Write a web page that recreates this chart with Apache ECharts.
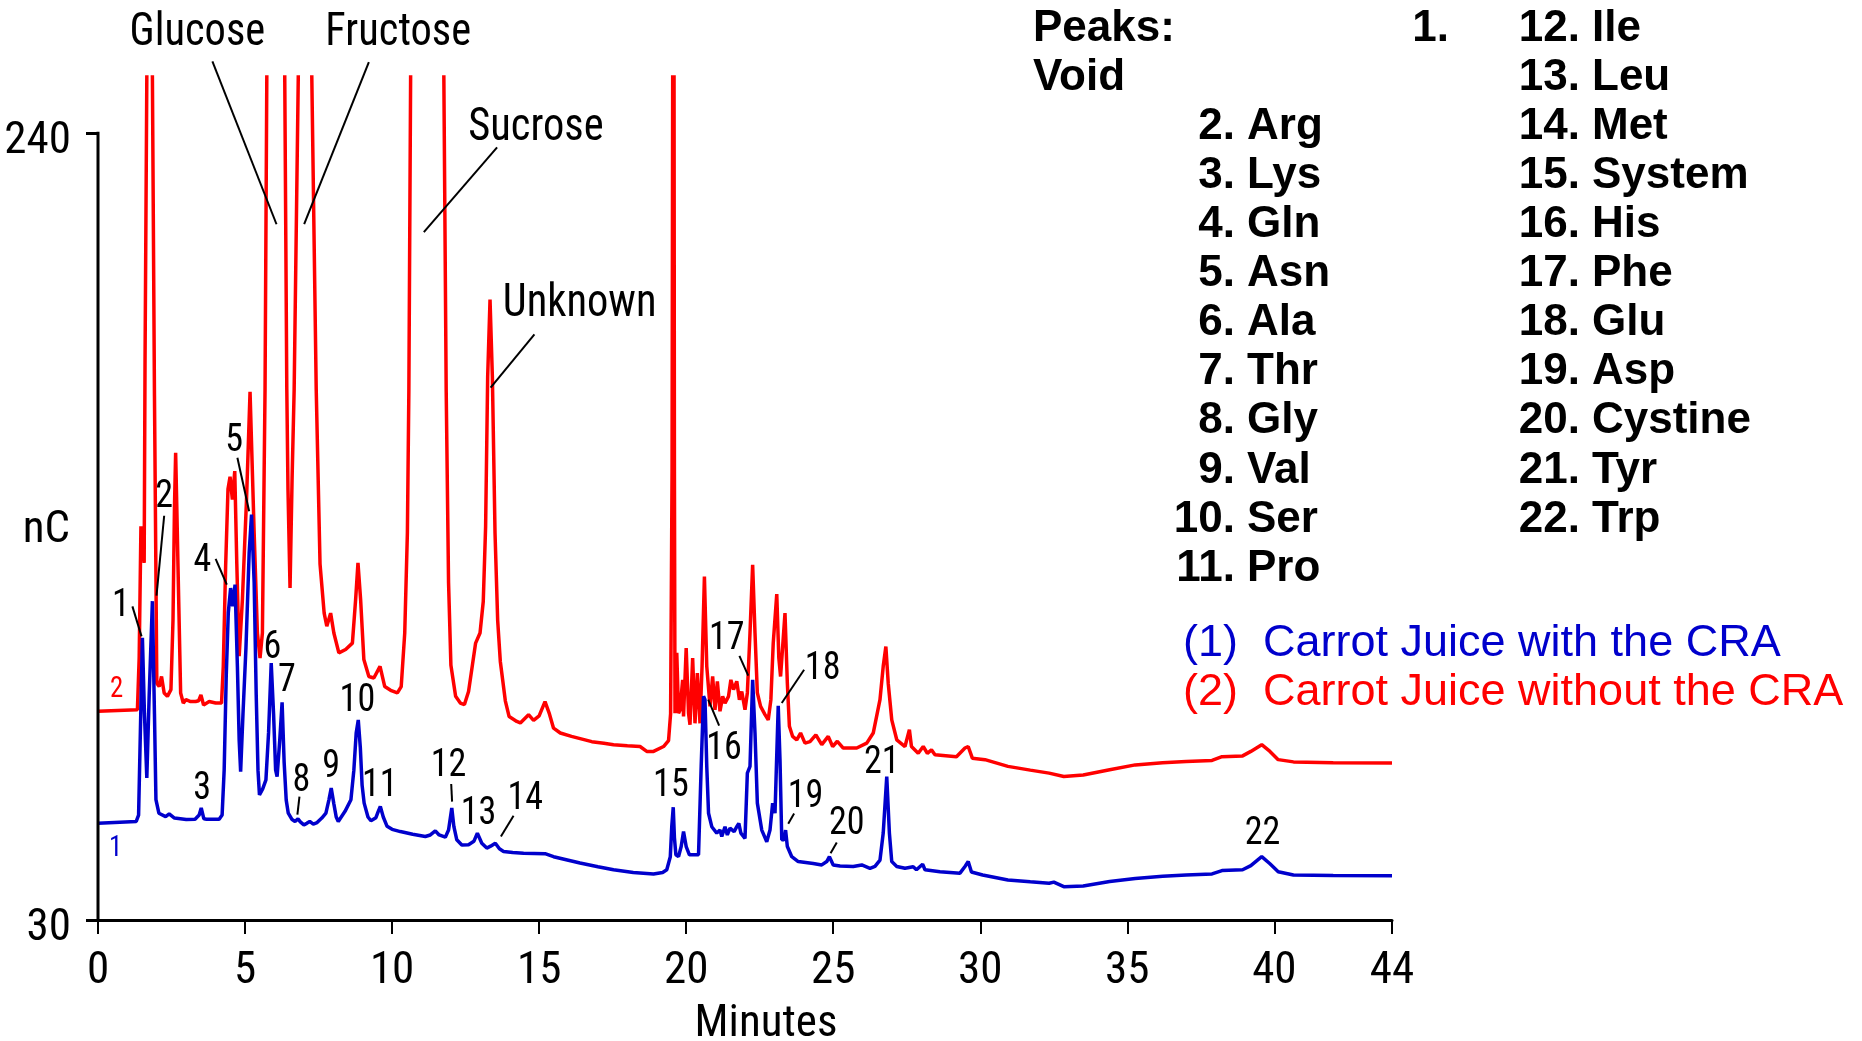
<!DOCTYPE html>
<html><head><meta charset="utf-8">
<script src="https://cdn.jsdelivr.net/npm/echarts@6/dist/echarts.min.js"></script>
<style>html,body{margin:0;padding:0;background:#fff}#c{width:1862px;height:1041px}</style>
</head><body><div id="c"></div>
<script>
const seriesNames = ['Carrot Juice with the CRA', 'Carrot Juice without the CRA'];
const seriesColors = ['#0000cc', '#ff0000'];
const xTicks = [0, 5, 10, 15, 20, 25, 30, 35, 40, 44];
const yTicks = [30, 240];

// (1) with CRA - [minutes, nC]
const blueTrace = [[0,55.8],[1.3,56.3],[1.38,58],[1.44,80],[1.51,105.3],[1.58,85],[1.66,67.9],[1.74,90],[1.85,115.1],[1.92,85],[1.97,62.1],[2.07,58.5],[2.3,57.6],[2.42,58.3],[2.6,57.2],[3.0,56.8],[3.3,56.9],[3.44,58],[3.51,59.9],[3.6,57],[3.69,56.9],[4.12,56.9],[4.22,58],[4.29,70],[4.36,95],[4.43,112],[4.51,118.6],[4.58,113.7],[4.66,119.5],[4.74,97.7],[4.8,78],[4.85,69.6],[4.93,85],[5.03,102.5],[5.14,128],[5.22,138.2],[5.31,120],[5.38,90],[5.44,70],[5.49,63.4],[5.6,65],[5.71,67.4],[5.8,80],[5.89,98.6],[5.97,85],[6.04,70],[6.09,68.3],[6.18,78],[6.26,88.1],[6.33,72],[6.4,62],[6.47,58.5],[6.6,56.8],[6.7,56.3],[6.8,57],[6.88,56.2],[7.0,55.4],[7.1,55.8],[7.2,56.3],[7.32,55.6],[7.45,56],[7.61,57.2],[7.75,58.5],[7.85,62],[7.93,65.2],[8.02,61],[8.1,57.5],[8.17,56.3],[8.4,59],[8.6,62.1],[8.7,70],[8.78,80],[8.85,83.4],[8.92,76],[8.98,66],[9.05,61.2],[9.18,57.5],[9.28,56.5],[9.45,57.3],[9.53,59],[9.6,60.3],[9.7,57.5],[9.83,55],[10.0,54.2],[10.28,53.6],[10.7,52.9],[11.13,52.3],[11.3,52.7],[11.47,53.8],[11.6,52.7],[11.81,52.1],[11.92,54],[12.03,59.9],[12.1,55],[12.2,51.4],[12.37,50.0],[12.6,50.1],[12.78,51],[12.9,53.2],[13.05,50.5],[13.22,49.2],[13.35,49.7],[13.51,50.5],[13.65,49],[13.79,48.3],[14.1,48],[14.47,47.8],[15.2,47.7],[15.49,46.9],[16.39,45.2],[17.0,44.2],[17.53,43.4],[18.2,42.7],[18.89,42.3],[19.2,42.7],[19.34,43.4],[19.46,46.9],[19.51,55],[19.56,60.1],[19.6,52],[19.65,47.4],[19.74,46.9],[19.83,49.6],[19.91,53.6],[20.0,49.6],[20.11,47.4],[20.42,47.4],[20.51,71],[20.59,89.7],[20.64,88.8],[20.7,71],[20.76,58.5],[20.87,54.9],[21.04,53.2],[21.15,54.0],[21.21,52.3],[21.32,54.9],[21.4,52.7],[21.49,54.5],[21.63,53.6],[21.72,54.9],[21.79,55.8],[21.86,53.2],[22.0,51.8],[22.08,69.2],[22.17,71],[22.26,94.1],[22.34,79.9],[22.42,61.2],[22.57,54.0],[22.74,50.9],[22.85,54.0],[22.94,61.2],[23.02,58.5],[23.13,87.2],[23.19,72.8],[23.25,51.4],[23.33,51.4],[23.38,54.0],[23.44,49.6],[23.59,46.9],[23.81,45.6],[24.32,45.1],[24.61,44.7],[24.78,45.6],[24.87,46.9],[25.0,44.7],[25.23,44.4],[25.68,44.3],[25.97,44.7],[26.25,43.8],[26.42,44.3],[26.59,46.0],[26.7,53.2],[26.82,68.3],[26.91,53.2],[26.99,45.6],[27.16,44.3],[27.44,43.8],[27.72,44.2],[27.83,43.4],[28.04,44.9],[28.12,43.4],[28.63,42.9],[29.31,42.5],[29.48,44.3],[29.59,45.6],[29.7,42.8],[30.08,42],[30.94,40.7],[31.7,40.2],[32.34,39.8],[32.5,40.1],[32.84,38.9],[33.5,39.1],[34.4,40.3],[35.27,41.1],[36.2,41.7],[37.0,42],[37.88,42.3],[38.22,43.2],[38.92,43.4],[39.2,44.5],[39.57,46.9],[39.85,45],[40.13,42.9],[40.65,42],[42.0,41.9],[44.0,41.8]];

// (2) without CRA - [minutes, nC]; sugar peaks run off the top of the plot
const redTrace = [[0,85.7],[1.34,86.1],[1.4,100],[1.46,135.1],[1.51,135.5],[1.57,125.3],[1.6,180],[1.66,255],[1.75,320],[1.85,255],[1.92,170],[2.0,93.2],[2.08,92.3],[2.16,95.0],[2.25,90.6],[2.36,89.7],[2.48,91.5],[2.55,110],[2.6,140],[2.64,154.7],[2.68,140],[2.72,124.4],[2.81,90.6],[2.9,87.9],[2.99,88.8],[3.15,88.3],[3.32,88.3],[3.42,88.5],[3.5,90.1],[3.59,87.4],[3.78,88.3],[4.0,87.9],[4.2,87.9],[4.26,97.7],[4.34,124.4],[4.42,145],[4.49,148.3],[4.57,142.2],[4.65,149.8],[4.72,125],[4.8,100.4],[4.91,115.5],[5.05,142.2],[5.17,171],[5.31,133.3],[5.42,106.6],[5.51,99.9],[5.59,106.6],[5.65,150],[5.68,171.6],[5.74,255],[6.05,600],[6.35,255],[6.42,171.6],[6.46,145],[6.53,118.6],[6.6,148],[6.67,171.6],[6.81,255],[7.05,500],[7.27,255],[7.42,171.6],[7.55,125],[7.69,111.9],[7.78,108.4],[7.91,111.9],[8.02,106.6],[8.19,101.3],[8.42,102.2],[8.65,103.9],[8.76,115.5],[8.84,125.3],[8.93,115.5],[9.04,99.5],[9.21,95],[9.38,94.6],[9.59,97.7],[9.75,92.3],[9.95,91.3],[10.18,90.6],[10.31,92.3],[10.43,106.6],[10.52,133.3],[10.57,171],[10.63,255],[11.2,900],[11.76,255],[11.84,171],[11.92,120],[12.0,98],[12.16,89.7],[12.32,87.9],[12.46,87.5],[12.6,91],[12.73,98],[12.84,103.9],[12.99,106.6],[13.1,115],[13.18,135],[13.25,175],[13.33,195.6],[13.41,175],[13.5,133.3],[13.59,110],[13.68,99],[13.85,88.5],[13.98,84.3],[14.24,83],[14.36,82.6],[14.64,84.8],[14.81,83.3],[15.0,84.5],[15.2,88.3],[15.35,85],[15.49,81.2],[15.72,79.9],[16.1,79],[16.79,77.6],[17.2,77.2],[17.53,76.8],[18.0,76.5],[18.43,76.3],[18.66,75.0],[18.89,75.0],[19.23,76.3],[19.4,77.9],[19.47,85],[19.52,150],[19.57,400],[19.6,150],[19.62,85.2],[19.68,101.3],[19.74,85.2],[19.79,86],[19.88,94.1],[19.91,84.3],[20.0,102.6],[20.08,85.2],[20.13,82.1],[20.22,99.9],[20.3,82.5],[20.38,95.9],[20.47,82.5],[20.54,97.7],[20.62,121.7],[20.7,97.7],[20.81,87],[20.9,95],[20.98,86.1],[21.06,93.7],[21.15,85.7],[21.24,89.7],[21.32,87.9],[21.44,89.7],[21.52,94.1],[21.61,91.5],[21.72,93.7],[21.81,88.8],[21.89,91],[22.0,86.1],[22.08,90.6],[22.17,106.6],[22.26,124.8],[22.34,106.6],[22.42,90.6],[22.53,87],[22.68,84.8],[22.79,83.4],[22.88,88.8],[22.96,103.9],[23.08,117],[23.15,100],[23.21,95],[23.36,111.9],[23.44,93.2],[23.51,81.7],[23.62,79],[23.76,78.1],[23.89,79.9],[24.04,77.2],[24.21,77.6],[24.41,79.4],[24.61,76.8],[24.83,79],[24.98,76.3],[25.14,77.7],[25.34,75.9],[25.8,75.9],[26.14,77.2],[26.36,79.9],[26.59,88.8],[26.7,97.7],[26.79,103.0],[26.87,93.2],[26.99,83.4],[27.16,78.1],[27.44,76.3],[27.59,80.8],[27.66,76.3],[27.89,74.5],[28.06,76.3],[28.2,74.5],[28.34,75.4],[28.46,74.1],[29.19,73.6],[29.48,75.9],[29.59,76.3],[29.73,73.2],[30.16,72.8],[30.94,71],[31.7,70],[32.34,69.2],[32.84,68.3],[33.5,68.7],[34.4,70.1],[35.27,71.4],[36.2,72],[37.0,72.3],[37.88,72.6],[38.22,73.6],[38.92,73.8],[39.2,75],[39.57,76.8],[39.85,75],[40.13,72.8],[40.65,72.2],[42.0,72],[44.0,71.9]];

// annotations in data coordinates [minutes, nC]
const sugarLabels = ['Glucose', 'Fructose', 'Sucrose', 'Unknown'];
const sugarLabelPos = [[3.38,268.2],[10.21,268.2],[14.89,242.8],[16.38,195.7]];
const sugarLeaders = [[3.89,259.2,6.07,215.7],[9.21,259.0,7.01,215.7],[13.57,236.2,11.08,213.6],[14.84,186.3,13.35,172.1]];
const peakNumbers = ['1','2','3','4','5','6','7','8','9','10','11','12','13','14','15','16','17','18','19','20','21','22'];
const peakLabelPos = [[0.775,115.05],[2.25,144.0],[3.54,66.1],[3.55,127.1],[4.63,159.1],[5.93,103.9],[6.42,95.0],[6.92,68.3],[7.93,71.9],[8.82,89.7],[9.58,67.0],[11.92,72.3],[12.94,59.4],[14.53,63.4],[19.48,67.0],[21.29,76.8],[21.38,106.2],[24.64,98.1],[24.06,63.9],[25.46,56.7],[26.65,73.2],[39.6,54.05]];
const peakLeaders = [[1.17,113.7,1.48,105.7],[2.25,137.9,1.99,116.6],[4.0,126.4,4.38,119.5],[4.74,153.4,5.14,139.1],[6.85,62.95,6.78,58.1],[12.01,66.3,12.04,61.6],[14.13,57.8,13.7,52.3],[20.75,88.8,21.12,81.9],[21.81,100.5,22.11,95.2],[24.01,96.8,23.25,87.9],[23.67,58.4,23.47,55.7],[25.12,50.7,24.91,47.8]];
const traceTags = ['1', '2'];
const traceTagPos = [[0.6,50.0],[0.63,92.3]];

const peakNames = ['Void','Arg','Lys','Gln','Asn','Ala','Thr','Gly','Val','Ser','Pro','Ile','Leu','Met','System','His','Phe','Glu','Asp','Cystine','Tyr','Trp'];

// ---- font selection: pick an installed condensed face ----
const mctx = document.createElement('canvas').getContext('2d');
function hasFont(f) {
  const s = 'abcdefghijklmMW0123456789';
  mctx.font = '40px monospace'; const w0 = mctx.measureText(s).width;
  mctx.font = "40px '" + f + "', monospace"; const w1 = mctx.measureText(s).width;
  return Math.abs(w1 - w0) > 0.5;
}
const condensedCandidates = ['Noto Sans Condensed', 'Liberation Sans Narrow', 'Arial Narrow', 'Roboto Condensed', 'DejaVu Sans Condensed'];
let narrowFace = 'DejaVu Sans Condensed';
for (const f of condensedCandidates) { if (hasFont(f)) { narrowFace = f; break; } }
const NARROW = "'" + narrowFace + "', sans-serif";
const SANS = "'Liberation Sans', Arial, Helvetica, sans-serif";
mctx.font = '100px ' + NARROW;
const digitRatio = mctx.measureText('0000000000').width / 1000;
const SQUEEZE = Math.min(1, 0.456 / digitRatio);           // horizontal squeeze for free text
const AXIS_FS = (s) => Math.round(s * Math.sqrt(SQUEEZE));  // compromise size for axis texts

// ---- peaks list (text block) ----
const ROW0 = 28.5, PITCH = 49.1, BOLD = 44;
const graphics = [];
function gtext(txt, x, y, align) {
  graphics.push({type:'text', x: x, y: y, silent: true,
    style:{text: txt, fill:'#000', fontSize: BOLD, fontWeight:'bold', fontFamily: SANS, align: align, verticalAlign:'middle'}});
}
gtext('Peaks:', 1033, ROW0, 'left');
gtext('1.', 1449, ROW0, 'right');
gtext(peakNames[0], 1033, ROW0 + PITCH, 'left');
for (let i = 2; i <= 11; i++) {
  gtext(i + '.', 1235, ROW0 + PITCH * i, 'right');
  gtext(peakNames[i - 1], 1247, ROW0 + PITCH * i, 'left');
}
for (let i = 12; i <= 22; i++) {
  gtext(i + '.', 1580, ROW0 + PITCH * (i - 12), 'right');
  gtext(peakNames[i - 1], 1592, ROW0 + PITCH * (i - 12), 'left');
}

// text annotations
const textItems = [];
sugarLabels.forEach((t, i) => textItems.push({value: sugarLabelPos[i], text: t, size: 46, color: '#000'}));
peakNumbers.forEach((t, i) => textItems.push({value: peakLabelPos[i], text: t, size: 39, color: '#000'}));
traceTags.forEach((t, i) => textItems.push({value: traceTagPos[i], text: t, size: 29, color: seriesColors[i]}));
const leaderItems = sugarLeaders.concat(peakLeaders);

const chart = echarts.init(document.getElementById('c'), null, {renderer: 'canvas'});
chart.setOption({
  animation: false,
  backgroundColor: '#fff',
  grid: {left: 98, right: 470, top: 77, bottom: 121, containLabel: false, outerBoundsMode: 'none'},
  legend: {
    orient: 'vertical', left: 1178, top: 621, padding: 0, itemGap: 4,
    itemWidth: 0, itemHeight: 45, icon: 'none', selectedMode: false,
    data: seriesNames.map((n, i) => ({name: n, textStyle: {color: seriesColors[i]}})),
    formatter: name => '(' + (seriesNames.indexOf(name) + 1) + ')  ' + name,
    textStyle: {fontSize: 45, fontFamily: SANS}
  },
  xAxis: {
    type: 'value', min: 0, max: 44,
    name: 'Minutes', nameLocation: 'middle', nameGap: 82, nameMoveOverlap: false,
    nameTextStyle: {fontSize: AXIS_FS(47), fontFamily: NARROW, color: '#000', padding: [0, 0, 0, 42]},
    axisLine: {show: true, onZero: false, lineStyle: {color: '#000', width: 3}},
    axisTick: {show: true, length: 14, lineStyle: {color: '#000', width: 2}, customValues: xTicks},
    axisLabel: {fontSize: AXIS_FS(47), fontFamily: NARROW, color: '#000', margin: 29, customValues: xTicks},
    splitLine: {show: false}
  },
  yAxis: {
    type: 'value', min: 30, max: 255,
    name: 'nC', nameLocation: 'middle', nameRotate: 0, nameGap: 28, nameMoveOverlap: false,
    nameTextStyle: {fontSize: AXIS_FS(47), fontFamily: NARROW, color: '#000', verticalAlign: 'top', lineHeight: 64},
    axisLine: {show: false},
    axisTick: {show: true, length: 12, lineStyle: {color: '#000', width: 3}, customValues: yTicks},
    axisLabel: {fontSize: AXIS_FS(47), fontFamily: NARROW, color: '#000', margin: 27, verticalAlign: 'top', lineHeight: 18, customValues: yTicks},
    splitLine: {show: false}
  },
  graphic: graphics,
  series: [
    {name: seriesNames[1], type: 'line', data: redTrace, symbol: 'none', clip: true,
      lineStyle: {color: seriesColors[1], width: 3.5}, itemStyle: {color: seriesColors[1]}, z: 2},
    {name: seriesNames[0], type: 'line', data: blueTrace, symbol: 'none', clip: true,
      lineStyle: {color: seriesColors[0], width: 3.5}, itemStyle: {color: seriesColors[0]}, z: 3},
    {type: 'custom', name: 'yAxisLine', data: [[0, 30, 0, 240]], clip: false, silent: true, z: 4,
      renderItem: (p, api) => {
        const a = api.coord([api.value(0), api.value(1)]), b = api.coord([api.value(2), api.value(3)]);
        return {type: 'line', shape: {x1: a[0], y1: a[1] + 1.5, x2: b[0], y2: b[1] - 1.5}, style: {stroke: '#000', lineWidth: 3}};
      }},
    {type: 'custom', name: 'leaders', data: leaderItems, clip: false, silent: true, z: 5,
      renderItem: (p, api) => {
        const a = api.coord([api.value(0), api.value(1)]), b = api.coord([api.value(2), api.value(3)]);
        return {type: 'line', shape: {x1: a[0], y1: a[1], x2: b[0], y2: b[1]}, style: {stroke: '#000', lineWidth: 2}};
      }},
    {type: 'custom', name: 'labels', data: textItems, clip: false, silent: true, z: 6,
      renderItem: (p, api) => {
        const it = textItems[p.dataIndex];
        const c = api.coord([api.value(0), api.value(1)]);
        return {type: 'text', x: c[0], y: c[1] + 0.12 * it.size, scaleX: SQUEEZE, scaleY: 1,
          style: {text: it.text, fill: it.color, fontSize: it.size, fontFamily: NARROW, align: 'center', verticalAlign: 'middle'}};
      }}
  ]
});
</script></body></html>
